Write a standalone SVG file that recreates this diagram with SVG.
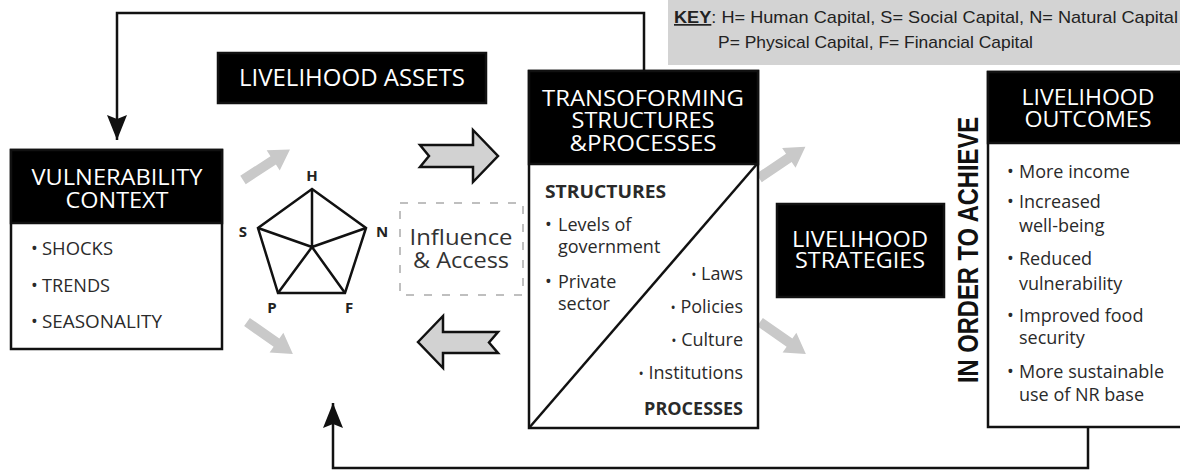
<svg xmlns="http://www.w3.org/2000/svg" width="1180" height="470" viewBox="0 0 1180 470">
<style>
.box{fill:#fff;stroke:#111;stroke-width:2.5}
.hdr{fill:#000;stroke:#111;stroke-width:2.5}
.ht{fill:#fff;font-family:"Open Sans","Liberation Sans",sans-serif;text-anchor:middle}
.bt{fill:#2a2a2a;font-family:"Open Sans","Liberation Sans",sans-serif;font-size:18px}
.bb{fill:#2a2a2a;font-family:"Open Sans","Liberation Sans",sans-serif;font-size:18px;font-weight:bold}
.lab{fill:#222;font-family:"Open Sans","Liberation Sans",sans-serif;font-size:15px;font-weight:bold;text-anchor:middle}
.line{fill:none;stroke:#111;stroke-width:2.5}
.fat{fill:#d2d2d2;stroke:#111;stroke-width:2.5;stroke-linejoin:miter}
.gray{fill:#c9c9c9}
.key{fill:#222;font-family:"Liberation Sans",Arial,sans-serif;font-size:17px}
</style>
<defs>
<marker id="ah" markerUnits="userSpaceOnUse" markerWidth="28" markerHeight="24" refX="25" refY="12" orient="auto">
<path d="M0,2 L25,12 L0,22 L4,12 z" fill="#111"/>
</marker>
<path id="ga" d="M0,-5 L36,-5 L36,-12 L56,0 L36,12 L36,5 L0,5 z"/>
</defs>

<g id="connectors">
<path class="line" d="M644,71 V13 H117 V140" marker-end="url(#ah)"/>
<path class="line" d="M1088,427 V468 H333 V403" marker-end="url(#ah)"/>
<use href="#ga" class="gray" transform="translate(243,180) rotate(-33)"/>
<use href="#ga" class="gray" transform="translate(247,322) rotate(35)"/>
<use href="#ga" class="gray" transform="translate(759,178) rotate(-34)"/>
<use href="#ga" class="gray" transform="translate(760,322) rotate(35)"/>
<polygon class="fat" points="420,145 473,145 473,130 498,156 473,182 473,167 420,167 429,156"/>
<polygon class="fat" points="418,342 443,316 443,332 498,332 489,342.5 498,353 443,353 443,368"/>
</g>

<g id="key">
<rect x="668" y="0" width="512" height="65" fill="#d3d3d3"/>
<text class="key" x="674" y="23" textLength="504" lengthAdjust="spacingAndGlyphs"><tspan font-weight="bold" text-decoration="underline">KEY</tspan>: H= Human Capital, S= Social Capital, N= Natural Capital</text>
<text class="key" x="718" y="48" textLength="315" lengthAdjust="spacingAndGlyphs">P= Physical Capital, F= Financial Capital</text>
</g>

<g id="assets">
<rect x="218" y="53" width="268" height="50" class="hdr"/>
<text class="ht" x="352" y="86" font-size="23" textLength="226" lengthAdjust="spacingAndGlyphs">LIVELIHOOD ASSETS</text>
</g>

<g id="vulnerability">
<rect x="11" y="150" width="211" height="199" class="box"/>
<rect x="11" y="150" width="211" height="73" class="hdr"/>
<text class="ht" x="117" y="185" font-size="22" textLength="171" lengthAdjust="spacingAndGlyphs">VULNERABILITY</text>
<text class="ht" x="117" y="208" font-size="22" textLength="103" lengthAdjust="spacingAndGlyphs">CONTEXT</text>
<text class="bt" x="31" y="255" font-size="14">•</text>
<text class="bt" x="42" y="255" textLength="71" lengthAdjust="spacingAndGlyphs">SHOCKS</text>
<text class="bt" x="31" y="292" font-size="14">•</text>
<text class="bt" x="42" y="292" textLength="68" lengthAdjust="spacingAndGlyphs">TRENDS</text>
<text class="bt" x="31" y="328" font-size="14">•</text>
<text class="bt" x="42" y="328" textLength="120" lengthAdjust="spacingAndGlyphs">SEASONALITY</text>
</g>

<g id="pentagon">
<polygon class="line" points="312,189 366,228 345,293 278,293 258,228"/>
<path class="line" d="M312,247 L312,189 M312,247 L366,228 M312,247 L345,293 M312,247 L278,293 M312,247 L258,228"/>
<text class="lab" x="312" y="181">H</text>
<text class="lab" x="243" y="237">S</text>
<text class="lab" x="382" y="237">N</text>
<text class="lab" x="272" y="313">P</text>
<text class="lab" x="349" y="313">F</text>
</g>

<g id="influence">
<rect x="400" y="203" width="123" height="92" fill="none" stroke="#aaa" stroke-width="1.5" stroke-dasharray="8 10"/>
<text x="461" y="245" fill="#333" font-family="Open Sans, Liberation Sans, sans-serif" font-size="22" text-anchor="middle" textLength="103" lengthAdjust="spacingAndGlyphs">Influence</text>
<text x="461" y="268" fill="#333" font-family="Open Sans, Liberation Sans, sans-serif" font-size="22" text-anchor="middle" textLength="96" lengthAdjust="spacingAndGlyphs">&amp; Access</text>
</g>

<g id="transforming">
<rect x="529" y="71" width="229" height="357" class="box"/>
<rect x="529" y="71" width="229" height="93" class="hdr"/>
<line x1="529" y1="428" x2="757" y2="164" stroke="#111" stroke-width="2.5"/>
<text class="ht" x="643" y="106" font-size="22" textLength="202" lengthAdjust="spacingAndGlyphs">TRANSOFORMING</text>
<text class="ht" x="643" y="128" font-size="22" textLength="143" lengthAdjust="spacingAndGlyphs">STRUCTURES</text>
<text class="ht" x="643" y="151" font-size="22" textLength="147" lengthAdjust="spacingAndGlyphs">&amp;PROCESSES</text>
<text class="bb" x="545" y="198" textLength="121" lengthAdjust="spacingAndGlyphs">STRUCTURES</text>
<text class="bt" x="545" y="231" font-size="14">•</text>
<text class="bt" x="558" y="231">Levels of</text>
<text class="bt" x="558" y="253">government</text>
<text class="bt" x="545" y="288" font-size="14">•</text>
<text class="bt" x="558" y="288">Private</text>
<text class="bt" x="558" y="310">sector</text>
<text class="bt" x="743" y="280" text-anchor="end"><tspan font-size="14">•</tspan> Laws</text>
<text class="bt" x="743" y="313" text-anchor="end"><tspan font-size="14">•</tspan> Policies</text>
<text class="bt" x="743" y="346" text-anchor="end"><tspan font-size="14">•</tspan> Culture</text>
<text class="bt" x="743" y="379" text-anchor="end"><tspan font-size="14">•</tspan> Institutions</text>
<text class="bb" x="743" y="415" text-anchor="end">PROCESSES</text>
</g>

<g id="strategies">
<rect x="777" y="204" width="167" height="93" class="hdr"/>
<text class="ht" x="860" y="247" font-size="22" textLength="136" lengthAdjust="spacingAndGlyphs">LIVELIHOOD</text>
<text class="ht" x="860" y="268" font-size="22" textLength="130" lengthAdjust="spacingAndGlyphs">STRATEGIES</text>
</g>

<g id="achieve">
<text transform="translate(978,250) rotate(-90)" x="0" y="0" fill="#111" font-family="Liberation Sans, Arial, sans-serif" font-weight="bold" font-size="30" text-anchor="middle" textLength="266" lengthAdjust="spacingAndGlyphs">IN ORDER TO ACHIEVE</text>
</g>

<g id="outcomes">
<rect x="988" y="72" width="205" height="355" class="box"/>
<rect x="988" y="72" width="205" height="71" class="hdr"/>
<text class="ht" x="1088" y="105" font-size="22" textLength="133" lengthAdjust="spacingAndGlyphs">LIVELIHOOD</text>
<text class="ht" x="1088" y="127" font-size="22" textLength="127" lengthAdjust="spacingAndGlyphs">OUTCOMES</text>
<text class="bt" x="1007" y="178" font-size="14">•</text>
<text class="bt" x="1019" y="178">More income</text>
<text class="bt" x="1007" y="208" font-size="14">•</text>
<text class="bt" x="1019" y="208">Increased</text>
<text class="bt" x="1019" y="232">well-being</text>
<text class="bt" x="1007" y="265" font-size="14">•</text>
<text class="bt" x="1019" y="265">Reduced</text>
<text class="bt" x="1019" y="290">vulnerability</text>
<text class="bt" x="1007" y="322" font-size="14">•</text>
<text class="bt" x="1019" y="322">Improved food</text>
<text class="bt" x="1019" y="344">security</text>
<text class="bt" x="1007" y="378" font-size="14">•</text>
<text class="bt" x="1019" y="378">More sustainable</text>
<text class="bt" x="1019" y="401">use of NR base</text>
</g>
</svg>
